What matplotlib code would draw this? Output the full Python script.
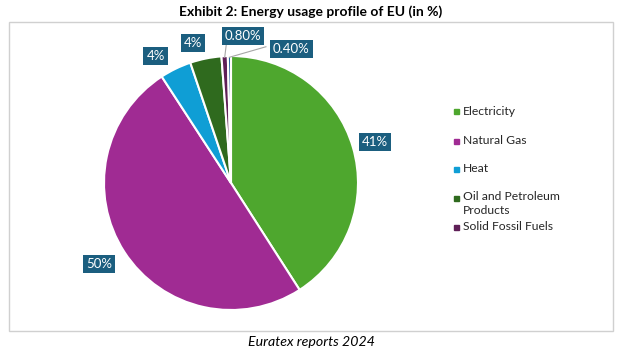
import matplotlib.pyplot as plt
from matplotlib.patches import Rectangle
import numpy as np

plt.rcParams['font.family'] = ['Lato', 'DejaVu Sans']

# data
categories = ['Electricity', 'Natural Gas', 'Heat', 'Oil and Petroleum\nProducts',
              'Solid Fossil Fuels', 'Other']
shares = [41, 50, 4, 4, 0.8, 0.4]
value_labels = ['41%', '50%', '4%', '4%', '0.80%', '0.40%']
colors = ['#4ea72e', '#a02b93', '#0f9ed5', '#2f6a1e', '#5f1f57', '#1f5f9a']
box_color = '#1b5e7f'

fig = plt.figure(figsize=(6.22, 3.52), dpi=100)

# light frame around the chart area
fig.add_artist(Rectangle((9 / 622, 1 - 331 / 352), 604 / 622, 309 / 352,
                         transform=fig.transFigure, fill=False,
                         edgecolor='#d0d0d0', linewidth=1))

ax = fig.add_axes([104 / 622, 42 / 352, 254 / 622, 254 / 352])
wedges, _ = ax.pie(shares, colors=colors, startangle=90, counterclock=False,
                   wedgeprops=dict(edgecolor='white', linewidth=1.5))
ax.set_xlim(-1, 1)
ax.set_ylim(-1, 1)
ax.set_aspect('equal')
ax.axis('off')

# label placement: distance from centre and angular nudge (deg)
dist = [1.18, 1.22, 1.165, 1.14, 1.16, 1.155]
nudge = [-0.5, -1.2, 4.8, 3.6, -7.5, -25]
for i, w in enumerate(wedges):
    mid = (w.theta1 + w.theta2) / 2
    a = np.deg2rad(mid + nudge[i])
    x, y = dist[i] * np.cos(a), dist[i] * np.sin(a)
    if i >= 4:
        rm = np.deg2rad(mid)
        rx, ry = 0.99 * np.cos(rm), 0.99 * np.sin(rm)
        if i == 4:
            ax.plot([x - 0.13, rx], [y - 0.06, ry], color='#a6a6a6', lw=0.8,
                    clip_on=False, zorder=1)
        else:
            ax.plot([x - 0.2, rx], [y + 0.02, ry], color='#a6a6a6', lw=0.8,
                    clip_on=False, zorder=1)
    ax.text(x, y, value_labels[i], ha='center', va='center', color='white',
            fontsize=9.5, zorder=5,
            bbox=dict(boxstyle='square,pad=0.22', fc=box_color, ec='none'))

# legend (only the five named series)
leg_y = [112, 141, 169, 198, 227]
for i, yy in enumerate(leg_y):
    fig.add_artist(Rectangle((454 / 622, 1 - (yy + 2.5) / 352), 5 / 622, 5 / 352,
                             transform=fig.transFigure, color=colors[i]))
    fig.text(463 / 622, 1 - (yy - 6.5) / 352, categories[i], fontsize=8.7,
             va='top', ha='left', color='#262626', linespacing=1.25)

fig.text(0.5, 1 - 12 / 352, 'Exhibit 2: Energy usage profile of EU (in %)',
         ha='center', va='center', fontsize=10, fontweight='bold')
fig.text(0.5, 1 - 342 / 352, 'Euratex reports 2024', ha='center', va='center',
         fontsize=10.2, style='italic')

fig.savefig('out.png', dpi=100)
